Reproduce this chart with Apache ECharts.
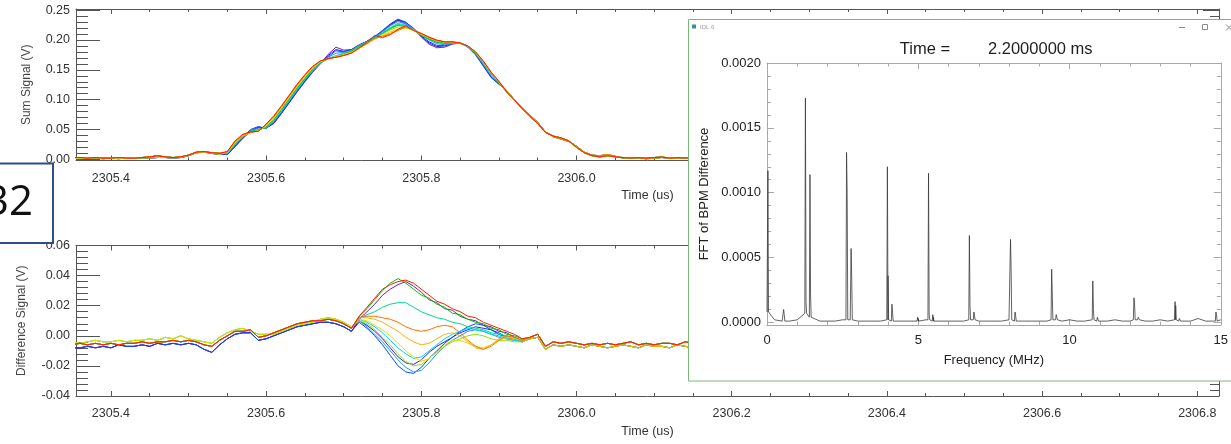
<!DOCTYPE html>
<html>
<head>
<meta charset="utf-8">
<title>BPM sum / difference signals and FFT</title>
<script src="https://cdn.jsdelivr.net/npm/echarts@6/dist/echarts.min.js"></script>
<style>
  html, body { margin: 0; padding: 0; background: #ffffff; }
  #chart { width: 1231px; height: 444px; }
</style>
</head>
<body>
<div id="chart"></div>
<script>
// ---------------- time base of the pickup traces ----------------
const sampleStepUs = 0.01;
const timeRangeUs = [2305.355, 2306.828];
const timeTickLabels = ['2305.4', '2305.6', '2305.8', '2306.0', '2306.2', '2306.4', '2306.6', '2306.8'];
const sumTickLabels = ['0.00', '0.05', '0.10', '0.15', '0.20', '0.25'];
const diffTickLabels = ['-0.04', '-0.02', '0.00', '0.02', '0.04', '0.06'];

// one colour per turn, in acquisition order
const traceColors = ['#7a1fb0', '#3020d8', '#0a46ff', '#1e96ff', '#00d2f0', '#00d890',
                     '#00c400', '#8ce000', '#e0e000', '#ffb000', '#ff7000', '#ff1a00'];

// ---------------- sum signal (V) ----------------
const sumPreStart = 2305.35;   // 2305.35 .. 2305.54
const sumPre = [
  [0.003, 0.003, 0.002, 0.003, 0.002, 0.002, 0.003, 0.002, 0.002, 0.003, 0.004, 0.006, 0.004, 0.003, 0.004, 0.007, 0.012, 0.013, 0.011, 0.010],
  [0.002, 0.001, 0.002, 0.002, 0.001, 0.002, 0.001, 0.002, 0.003, 0.002, 0.002, 0.003, 0.003, 0.002, 0.003, 0.006, 0.011, 0.012, 0.010, 0.008]
];
const sumCoreStart = 2305.55;  // 2305.55 .. 2305.90, one row per turn
const sumCore = [
  [0.008, 0.021, 0.035, 0.047, 0.054, 0.052, 0.060, 0.077, 0.095, 0.113, 0.130, 0.146, 0.160, 0.176, 0.188, 0.183, 0.184, 0.191, 0.197, 0.205, 0.215, 0.226, 0.234, 0.229, 0.220, 0.205, 0.193, 0.187, 0.188, 0.193, 0.195, 0.190, 0.177, 0.158, 0.138, 0.126],
  [0.008, 0.022, 0.036, 0.048, 0.053, 0.053, 0.061, 0.078, 0.096, 0.114, 0.131, 0.147, 0.161, 0.174, 0.184, 0.181, 0.184, 0.192, 0.198, 0.205, 0.214, 0.225, 0.233, 0.227, 0.218, 0.206, 0.195, 0.189, 0.190, 0.194, 0.195, 0.189, 0.176, 0.157, 0.138, 0.127],
  [0.009, 0.023, 0.037, 0.050, 0.055, 0.052, 0.062, 0.079, 0.097, 0.115, 0.132, 0.148, 0.162, 0.172, 0.182, 0.180, 0.183, 0.191, 0.198, 0.206, 0.216, 0.227, 0.235, 0.230, 0.219, 0.207, 0.197, 0.191, 0.191, 0.195, 0.196, 0.188, 0.175, 0.156, 0.137, 0.126],
  [0.009, 0.024, 0.037, 0.048, 0.052, 0.052, 0.063, 0.080, 0.098, 0.116, 0.133, 0.148, 0.161, 0.171, 0.178, 0.179, 0.183, 0.191, 0.198, 0.205, 0.214, 0.224, 0.231, 0.227, 0.219, 0.209, 0.200, 0.194, 0.192, 0.194, 0.195, 0.189, 0.177, 0.159, 0.140, 0.127],
  [0.010, 0.025, 0.038, 0.047, 0.050, 0.053, 0.065, 0.082, 0.100, 0.118, 0.134, 0.149, 0.161, 0.169, 0.174, 0.178, 0.182, 0.190, 0.197, 0.204, 0.212, 0.221, 0.228, 0.225, 0.218, 0.208, 0.201, 0.196, 0.194, 0.195, 0.195, 0.189, 0.178, 0.161, 0.142, 0.128],
  [0.010, 0.026, 0.038, 0.046, 0.049, 0.054, 0.066, 0.083, 0.101, 0.119, 0.135, 0.150, 0.162, 0.168, 0.172, 0.177, 0.182, 0.189, 0.196, 0.203, 0.211, 0.220, 0.226, 0.224, 0.217, 0.208, 0.201, 0.196, 0.194, 0.195, 0.194, 0.189, 0.178, 0.162, 0.143, 0.129],
  [0.011, 0.027, 0.039, 0.046, 0.049, 0.054, 0.067, 0.084, 0.102, 0.120, 0.136, 0.151, 0.163, 0.169, 0.172, 0.176, 0.181, 0.189, 0.196, 0.203, 0.211, 0.219, 0.225, 0.222, 0.216, 0.208, 0.202, 0.197, 0.195, 0.196, 0.195, 0.190, 0.179, 0.163, 0.144, 0.129],
  [0.011, 0.027, 0.039, 0.045, 0.048, 0.055, 0.068, 0.085, 0.103, 0.121, 0.137, 0.152, 0.163, 0.169, 0.172, 0.176, 0.180, 0.188, 0.195, 0.202, 0.210, 0.217, 0.222, 0.221, 0.216, 0.209, 0.203, 0.198, 0.196, 0.196, 0.195, 0.190, 0.179, 0.163, 0.144, 0.129],
  [0.012, 0.028, 0.040, 0.045, 0.048, 0.056, 0.070, 0.087, 0.105, 0.123, 0.139, 0.153, 0.164, 0.169, 0.172, 0.175, 0.179, 0.187, 0.194, 0.201, 0.208, 0.214, 0.219, 0.220, 0.216, 0.210, 0.204, 0.199, 0.197, 0.197, 0.195, 0.190, 0.179, 0.163, 0.145, 0.130],
  [0.012, 0.029, 0.040, 0.045, 0.048, 0.057, 0.071, 0.088, 0.106, 0.124, 0.140, 0.154, 0.164, 0.169, 0.172, 0.175, 0.179, 0.187, 0.194, 0.202, 0.207, 0.212, 0.217, 0.221, 0.217, 0.210, 0.204, 0.199, 0.197, 0.197, 0.195, 0.190, 0.180, 0.164, 0.145, 0.130],
  [0.013, 0.030, 0.041, 0.045, 0.047, 0.058, 0.072, 0.089, 0.107, 0.125, 0.141, 0.155, 0.165, 0.169, 0.171, 0.174, 0.178, 0.186, 0.194, 0.203, 0.206, 0.210, 0.216, 0.222, 0.217, 0.211, 0.204, 0.199, 0.197, 0.197, 0.195, 0.190, 0.180, 0.164, 0.146, 0.130],
  [0.013, 0.031, 0.042, 0.046, 0.047, 0.059, 0.073, 0.090, 0.108, 0.126, 0.142, 0.156, 0.165, 0.169, 0.171, 0.174, 0.178, 0.187, 0.196, 0.208, 0.204, 0.209, 0.218, 0.224, 0.216, 0.211, 0.205, 0.200, 0.197, 0.197, 0.195, 0.190, 0.180, 0.165, 0.146, 0.131]
];
const sumFallStart = 2305.91;  // 2305.91 .. 2306.05
const sumFall = [
  [0.115, 0.100, 0.086, 0.074, 0.062, 0.046, 0.038, 0.034, 0.030, 0.022, 0.012, 0.007, 0.006, 0.008, 0.005],
  [0.113, 0.099, 0.085, 0.072, 0.060, 0.045, 0.039, 0.036, 0.031, 0.020, 0.011, 0.006, 0.004, 0.006, 0.004]
];
const sumPostStart = 2306.06;  // 2306.06 .. 2306.83
const sumPost = [
  [0.003, 0.002, 0.003, 0.002, 0.003, 0.004, 0.002, 0.003, 0.002, 0.003, 0.002, 0.003, 0.003,
   0.002, 0.003, 0.002, 0.002, 0.003, 0.002, 0.003, 0.004, 0.003, 0.002, 0.003, 0.002, 0.003,
   0.002, 0.003, 0.003, 0.002, 0.003, 0.002, 0.003, 0.002, 0.002, 0.003, 0.002, 0.003, 0.002,
   0.003, 0.002, 0.002, 0.003, 0.002, 0.003, 0.003, 0.002, 0.003, 0.002, 0.002, 0.003, 0.002,
   0.003, 0.002, 0.003, 0.002, 0.002, 0.003, 0.002, 0.003, 0.002, 0.003, 0.002, 0.002, 0.003,
   0.002, 0.003, 0.002, 0.003, 0.002, 0.002, 0.003, 0.002, 0.003, 0.002, 0.003, 0.002, 0.003],
  [0.002, 0.003, 0.002, 0.001, 0.002, 0.003, 0.002, 0.002, 0.003, 0.002, 0.001, 0.002, 0.002,
   0.003, 0.002, 0.001, 0.002, 0.002, 0.003, 0.002, 0.002, 0.001, 0.002, 0.003, 0.002, 0.002,
   0.001, 0.002, 0.002, 0.003, 0.002, 0.001, 0.002, 0.002, 0.003, 0.002, 0.002, 0.001, 0.002,
   0.002, 0.003, 0.002, 0.001, 0.002, 0.002, 0.003, 0.002, 0.002, 0.001, 0.002, 0.003, 0.002,
   0.002, 0.001, 0.002, 0.002, 0.003, 0.002, 0.002, 0.001, 0.002, 0.003, 0.002, 0.002, 0.001,
   0.002, 0.002, 0.003, 0.002, 0.001, 0.002, 0.002, 0.003, 0.002, 0.002, 0.001, 0.002, 0.002]
];
const sumPreVariant  = [1, 1, 1, 0, 0, 0, 0, 0, 1, 0, 0, 0];
const sumFallVariant = [0, 1, 0, 1, 0, 1, 0, 1, 0, 1, 0, 1];
const sumPostVariant = [1, 0, 1, 0, 1, 0, 1, 0, 1, 0, 1, 0];

// ---------------- difference signal (V) ----------------
const diffPreStart = 2305.35;  // 2305.35 .. 2305.71
const diffPre = [
  [-0.006, -0.005, -0.006, -0.005, -0.006, -0.005, -0.006, -0.005, -0.005, -0.004, -0.005, -0.004, -0.004, -0.003, -0.004, -0.003, -0.004, -0.006, -0.007,
   -0.003, 0.000, 0.003, 0.003, 0.004, -0.001, 0.000, 0.002, 0.004, 0.006, 0.008, 0.009, 0.010, 0.010, 0.011, 0.010, 0.008, 0.005],
  [-0.008, -0.008, -0.007, -0.008, -0.007, -0.008, -0.006, -0.007, -0.007, -0.006, -0.007, -0.005, -0.006, -0.005, -0.006, -0.005, -0.006, -0.009, -0.011,
   -0.006, -0.002, 0.001, 0.002, 0.002, -0.003, -0.002, 0.000, 0.002, 0.004, 0.006, 0.007, 0.008, 0.009, 0.009, 0.008, 0.006, 0.003],
  [-0.004, -0.005, -0.004, -0.003, -0.004, -0.004, -0.003, -0.004, -0.003, -0.003, -0.002, -0.003, -0.001, -0.002, 0.000, -0.002, -0.003, -0.004, -0.005,
   -0.001, 0.002, 0.004, 0.005, 0.003, 0.001, 0.001, 0.001, 0.003, 0.005, 0.007, 0.008, 0.009, 0.011, 0.012, 0.011, 0.009, 0.006]
];
const diffCoreStart = 2305.72; // 2305.72 .. 2305.93, one row per turn
const diffCore = [
  [0.011, 0.016, 0.021, 0.027, 0.031, 0.034, 0.036, 0.033, 0.029, 0.024, 0.022, 0.018, 0.017, 0.013, 0.011, 0.010, 0.007, 0.006, 0.003, 0.002, -0.001, -0.003],
  [0.010, 0.007, 0.003, -0.002, -0.008, -0.014, -0.018, -0.019, -0.016, -0.011, -0.007, -0.004, -0.001, 0.002, 0.004, 0.006, 0.005, 0.004, 0.001, -0.001, -0.002, -0.004],
  [0.009, 0.005, 0.000, -0.006, -0.013, -0.020, -0.024, -0.025, -0.021, -0.015, -0.010, -0.005, -0.001, 0.003, 0.006, 0.008, 0.007, 0.004, 0.002, -0.001, -0.002, -0.004],
  [0.010, 0.006, 0.001, -0.004, -0.010, -0.016, -0.021, -0.024, -0.023, -0.018, -0.012, -0.007, -0.003, 0.000, 0.003, 0.004, 0.003, 0.001, -0.001, -0.002, -0.003, -0.004],
  [0.011, 0.009, 0.006, 0.002, -0.003, -0.008, -0.012, -0.015, -0.014, -0.010, -0.006, -0.002, 0.001, 0.003, 0.005, 0.004, 0.003, 0.001, 0.000, -0.002, -0.003, -0.003],
  [0.012, 0.014, 0.016, 0.019, 0.021, 0.022, 0.022, 0.019, 0.016, 0.014, 0.012, 0.011, 0.009, 0.008, 0.006, 0.005, 0.004, 0.002, 0.001, 0.000, -0.002, -0.003],
  [0.013, 0.018, 0.024, 0.030, 0.035, 0.038, 0.035, 0.031, 0.027, 0.025, 0.021, 0.019, 0.015, 0.014, 0.011, 0.009, 0.008, 0.005, 0.004, 0.001, 0.000, -0.002],
  [0.010, 0.008, 0.004, -0.001, -0.006, -0.012, -0.017, -0.020, -0.019, -0.015, -0.011, -0.007, -0.004, -0.002, 0.000, 0.001, 0.000, -0.002, -0.003, -0.003, -0.004, -0.004],
  [0.011, 0.010, 0.007, 0.004, 0.000, -0.005, -0.010, -0.014, -0.017, -0.015, -0.011, -0.006, -0.003, -0.003, -0.005, -0.007, -0.008, -0.006, -0.003, -0.001, -0.002, -0.003],
  [0.012, 0.012, 0.011, 0.009, 0.006, 0.003, -0.001, -0.004, -0.006, -0.005, -0.002, 0.001, 0.002, 0.000, -0.004, -0.008, -0.009, -0.006, -0.002, 0.000, -0.002, -0.003],
  [0.012, 0.013, 0.013, 0.012, 0.011, 0.009, 0.006, 0.004, 0.003, 0.004, 0.006, 0.007, 0.006, 0.002, -0.003, -0.007, -0.009, -0.007, -0.003, 0.000, -0.001, -0.003],
  [0.013, 0.019, 0.025, 0.031, 0.034, 0.036, 0.037, 0.035, 0.031, 0.027, 0.023, 0.021, 0.018, 0.016, 0.013, 0.012, 0.009, 0.007, 0.005, 0.003, 0.001, -0.002]
];
const diffPostStart = 2305.94; // 2305.94 .. 2306.83
const diffPost = [
  [-0.001, 0.001, -0.007, -0.004, -0.005, -0.004, -0.005, -0.006, -0.005, -0.006,
   -0.005, -0.006, -0.005, -0.004, -0.006, -0.005, -0.006, -0.005, -0.005, -0.006,
   -0.004, -0.005, -0.006, -0.005, -0.006, -0.005, -0.004, -0.005, -0.006, -0.005,
   -0.006, -0.005, -0.005, -0.006, -0.004, -0.005, -0.006, -0.005, -0.005, -0.006,
   -0.005, -0.004, -0.006, -0.005, -0.006, -0.005, -0.005, -0.004, -0.006, -0.005,
   -0.006, -0.005, -0.005, -0.006, -0.004, -0.005, -0.006, -0.005, -0.005, -0.006,
   -0.005, -0.004, -0.006, -0.005, -0.006, -0.005, -0.005, -0.004, -0.006, -0.005,
   -0.006, -0.005, -0.005, -0.006, -0.004, -0.005, -0.006, -0.005, -0.005, -0.006,
   -0.005, -0.004, -0.006, -0.005, -0.006, -0.005, -0.005, -0.004, -0.006, -0.005],
  [-0.002, -0.001, -0.009, -0.006, -0.007, -0.006, -0.007, -0.008, -0.006, -0.007,
   -0.008, -0.007, -0.006, -0.007, -0.008, -0.006, -0.007, -0.007, -0.008, -0.006,
   -0.007, -0.008, -0.006, -0.007, -0.007, -0.008, -0.006, -0.007, -0.008, -0.007,
   -0.006, -0.007, -0.008, -0.007, -0.006, -0.007, -0.007, -0.008, -0.006, -0.007,
   -0.008, -0.006, -0.007, -0.007, -0.008, -0.007, -0.006, -0.007, -0.008, -0.006,
   -0.007, -0.007, -0.008, -0.006, -0.007, -0.008, -0.007, -0.006, -0.007, -0.007,
   -0.008, -0.006, -0.007, -0.008, -0.007, -0.006, -0.007, -0.007, -0.008, -0.006,
   -0.007, -0.008, -0.006, -0.007, -0.007, -0.008, -0.007, -0.006, -0.007, -0.008,
   -0.006, -0.007, -0.007, -0.008, -0.006, -0.007, -0.008, -0.007, -0.006, -0.007]
];
const diffPreVariant  = [1, 1, 1, 0, 2, 0, 0, 2, 2, 0, 0, 0];
const diffPostVariant = [1, 1, 0, 0, 0, 1, 0, 1, 0, 1, 0, 0];

// ---------------- FFT of the difference signal ----------------
const freqTickLabels = ['0', '5', '10', '15'];
const fftTickLabels = ['0.0000', '0.0005', '0.0010', '0.0015', '0.0020'];
const fftFloorStepMHz = 0.25;
const fftFloor = [
  0.00008, 0.00002, 0.00001, 0.00001, 0.00002, 0.00007, 0.00004, 0.00001, 0.00001, 0.00001,
  0.00002, 0.00002, 0.00001, 0.00001, 0.00001, 0.00001, 0.00002, 0.00001, 0.00001, 0.00001,
  0.00001, 0.00002, 0.00001, 0.00001, 0.00001, 0.00001, 0.00001, 0.00002, 0.00001, 0.00001,
  0.00001, 0.00001, 0.00002, 0.00001, 0.00001, 0.00001, 0.00001, 0.00001, 0.00002, 0.00001,
  0.00002, 0.00001, 0.00001, 0.00002, 0.00001, 0.00001, 0.00002, 0.00001, 0.00001, 0.00002,
  0.00001, 0.00001, 0.00002, 0.00001, 0.00002, 0.00001, 0.00001, 0.00003, 0.00001, 0.00001,
  0.00002
];
const fftBinMHz = 0.02;
const fftPeakMHz  = [0.03, 0.55, 1.27, 1.42, 2.63, 2.78, 3.98, 4.13, 4.98, 5.34, 5.48, 6.69, 6.84,
                     8.05, 8.20, 9.41, 9.56, 10.77, 10.92, 12.13, 12.27, 13.49, 13.63, 14.84];
const fftPeakAmp  = [0.00117, 0.00010, 0.00173, 0.00114, 0.00131, 0.00057, 0.00120, 0.00014, 0.00004, 0.00115, 0.00006, 0.00067, 0.00008,
                     0.00064, 0.00008, 0.00041, 0.00006, 0.00032, 0.00004, 0.00019, 0.00004, 0.00016, 0.00003, 0.00008];
const fftPeakNext = [0.00008, 0.00006, 0.00016, 0.00022, 0.00098, 0.00035, 0.00036, 0.00008, 0.00003, 0.00006, 0.00004, 0.00013, 0.00005,
                     0.00040, 0.00005, 0.00022, 0.00004, 0.00010, 0.00003, 0.00015, 0.00003, 0.00013, 0.00002, 0.00006];

// ---------------- build series data ----------------
function segment(startUs, values) {
  return values.map((v, i) => [Math.round((startUs + i * sampleStepUs) * 1000) / 1000, v]);
}

const sumSeries = traceColors.map((color, k) => ({
  type: 'line', xAxisIndex: 0, yAxisIndex: 0, z: 2,
  showSymbol: false, symbol: 'none', animation: false, silent: true,
  lineStyle: { color: color, width: 1 },
  data: [].concat(
    segment(sumPreStart, sumPre[sumPreVariant[k]]),
    segment(sumCoreStart, sumCore[k]),
    segment(sumFallStart, sumFall[sumFallVariant[k]]),
    segment(sumPostStart, sumPost[sumPostVariant[k]])
  )
}));

const diffSeries = traceColors.map((color, k) => ({
  type: 'line', xAxisIndex: 2, yAxisIndex: 2, z: 2,
  showSymbol: false, symbol: 'none', animation: false, silent: true,
  lineStyle: { color: color, width: 1 },
  data: [].concat(
    segment(diffPreStart, diffPre[diffPreVariant[k]]),
    segment(diffCoreStart, diffCore[k]),
    segment(diffPostStart, diffPost[diffPostVariant[k]])
  )
}));

const fftPoints = fftFloor.map((v, i) => [i * fftFloorStepMHz, v]);
fftPeakMHz.forEach((f, i) => {
  const foot = fftFloor[Math.min(fftFloor.length - 1, Math.round(f / fftFloorStepMHz))];
  fftPoints.push([f - fftBinMHz, foot], [f, fftPeakAmp[i]], [f + fftBinMHz, fftPeakNext[i]], [f + 2 * fftBinMHz, foot]);
});
fftPoints.sort((a, b) => a[0] - b[0]);

// ---------------- axes ----------------
const FONT = '"Liberation Sans", Arial, Helvetica, sans-serif';
const AXIS_GRAY = '#555555';
const LABEL_GRAY = '#333333';

function tickValues(labels) { return labels.map(Number); }

function timeAxis(gridIndex, top, showLabels) {
  const ticks = tickValues(timeTickLabels);
  return {
    type: 'value', gridIndex: gridIndex, position: top ? 'top' : 'bottom',
    min: timeRangeUs[0], max: timeRangeUs[1], splitNumber: 7,
    axisLine: { show: true, onZero: false, lineStyle: { color: AXIS_GRAY, width: 1 } },
    axisTick: { show: true, inside: true, length: 5, customValues: ticks, lineStyle: { color: AXIS_GRAY, width: 1 } },
    minorTick: { show: true, splitNumber: 4, length: 3, lineStyle: { color: AXIS_GRAY, width: 1 } },
    splitLine: { show: false }, minorSplitLine: { show: false },
    axisLabel: showLabels ? {
      show: true, margin: 11.5, fontSize: 12.5, fontFamily: FONT, color: LABEL_GRAY,
      customValues: ticks, formatter: v => v.toFixed(1)
    } : { show: false },
    name: showLabels ? 'Time (us)' : '', nameLocation: 'middle', nameGap: 29,
    nameTextStyle: { fontSize: 12.5, fontFamily: FONT, color: LABEL_GRAY }
  };
}

function valueAxis(gridIndex, right, range, split, labels, digits, name, nameGap, tickLen, minorLen) {
  const ticks = tickValues(labels);
  return {
    type: 'value', gridIndex: gridIndex, position: right ? 'right' : 'left',
    min: range[0], max: range[1], splitNumber: split,
    axisLine: { show: true, onZero: false, lineStyle: { color: AXIS_GRAY, width: 1 } },
    axisTick: { show: true, inside: true, length: tickLen, customValues: ticks, lineStyle: { color: AXIS_GRAY, width: 1 } },
    minorTick: { show: true, splitNumber: 5, length: minorLen, lineStyle: { color: AXIS_GRAY, width: 1 } },
    splitLine: { show: false }, minorSplitLine: { show: false },
    axisLabel: right ? { show: false } : {
      show: true, margin: 6, fontSize: 12.5, fontFamily: FONT, color: LABEL_GRAY,
      showMinLabel: true, showMaxLabel: true,
      customValues: ticks, formatter: v => (Math.abs(v) < 1e-12 ? 0 : v).toFixed(digits)
    },
    name: right ? '' : name, nameLocation: 'middle', nameGap: nameGap,
    nameTextStyle: { fontSize: 12, fontFamily: FONT, color: '#444444' }
  };
}

const FFT_GRAY = '#a8a8a8';
function fftAxis(extra) {
  return Object.assign({
    type: 'value', z: 20,
    axisLine: { show: true, onZero: false, lineStyle: { color: FFT_GRAY, width: 1 } },
    splitLine: { show: false }, minorSplitLine: { show: false },
    nameLocation: 'middle',
    nameTextStyle: { fontSize: 13, fontFamily: FONT, color: '#222222' }
  }, extra);
}
const freqTicks = tickValues(freqTickLabels);
const fftTicks = tickValues(fftTickLabels);

const option = {
  animation: false,
  backgroundColor: '#ffffff',
  textStyle: { fontFamily: FONT },
  grid: [
    { left: 76, top: 9, width: 1143, height: 151.5, containLabel: false },
    { left: 76, top: 245.5, width: 1143, height: 150.5, containLabel: false },
    { left: 767, top: 63, width: 456, height: 262, containLabel: false }
  ],
  xAxis: [
    timeAxis(0, false, true),
    timeAxis(0, true, false),
    timeAxis(1, false, true),
    timeAxis(1, true, false),
    fftAxis({
      gridIndex: 2, position: 'bottom', min: 0, max: 15, interval: 5,
      axisTick: { show: true, inside: true, length: 6, customValues: freqTicks, lineStyle: { color: FFT_GRAY, width: 1 } },
      minorTick: { show: true, splitNumber: 5, length: 3.5, lineStyle: { color: FFT_GRAY, width: 1 } },
      axisLabel: { show: true, margin: 8.5, fontSize: 13, fontFamily: FONT, color: '#222222',
                   showMinLabel: true, showMaxLabel: true, customValues: freqTicks, formatter: v => String(v) },
      name: 'Frequency (MHz)', nameGap: 28.5
    }),
    fftAxis({
      gridIndex: 2, position: 'top', min: 0, max: 15, interval: 5,
      axisTick: { show: true, inside: true, length: 6, customValues: freqTicks, lineStyle: { color: FFT_GRAY, width: 1 } },
      minorTick: { show: true, splitNumber: 5, length: 3.5, lineStyle: { color: FFT_GRAY, width: 1 } },
      axisLabel: { show: false }
    })
  ],
  yAxis: [
    valueAxis(0, false, [-0.002, 0.252], 5, sumTickLabels, 2, 'Sum Signal (V)', 43, 24, 12),
    valueAxis(0, true, [-0.002, 0.252], 5, sumTickLabels, 2, '', 0, 16, 9),
    valueAxis(1, false, [-0.04, 0.06], 5, diffTickLabels, 2, 'Difference Signal (V)', 48, 24, 12),
    valueAxis(1, true, [-0.04, 0.06], 5, diffTickLabels, 2, '', 0, 16, 9),
    fftAxis({
      gridIndex: 2, position: 'left', min: -0.00002, max: 0.002, splitNumber: 4,
      axisTick: { show: true, inside: true, length: 7, customValues: fftTicks, lineStyle: { color: FFT_GRAY, width: 1 } },
      minorTick: { show: true, splitNumber: 5, length: 4, lineStyle: { color: FFT_GRAY, width: 1 } },
      axisLabel: { show: true, margin: 6, fontSize: 13, fontFamily: FONT, color: '#222222',
                   showMinLabel: true, showMaxLabel: true, customValues: fftTicks,
                   formatter: v => (Math.abs(v) < 1e-12 ? 0 : v).toFixed(4) },
      name: 'FFT of BPM Difference', nameGap: 56.5
    }),
    fftAxis({
      gridIndex: 2, position: 'right', min: -0.00002, max: 0.002, splitNumber: 4,
      axisTick: { show: true, inside: true, length: 7, customValues: fftTicks, lineStyle: { color: FFT_GRAY, width: 1 } },
      minorTick: { show: true, splitNumber: 5, length: 4, lineStyle: { color: FFT_GRAY, width: 1 } },
      axisLabel: { show: false }
    })
  ],
  series: sumSeries.concat(diffSeries, [{
    type: 'line', xAxisIndex: 4, yAxisIndex: 4, z: 20,
    showSymbol: false, symbol: 'none', animation: false, silent: true,
    lineStyle: { color: '#3a3a3a', width: 0.8 },
    data: fftPoints
  }]),
  graphic: {
    elements: [
      // slide box with the page number
      { type: 'rect', z: 15, shape: { x: -10, y: 163.5, width: 63, height: 79.5 },
        style: { fill: '#ffffff', stroke: '#2f4d8a', lineWidth: 2 } },
      { type: 'text', z: 16, x: 33, y: 203,
        style: { text: '32', font: '42px "Open Sans", "Noto Sans", sans-serif', fill: '#111111',
                 textAlign: 'right', align: 'right', textVerticalAlign: 'middle', verticalAlign: 'middle' } },

      // spectrum window
      { type: 'rect', z: 10, shape: { x: 688.5, y: 19.5, width: 600, height: 361.5 },
        style: { fill: '#ffffff', stroke: '#78b878', lineWidth: 1 } },
      { type: 'rect', z: 11, shape: { x: 692, y: 24.5, width: 4, height: 4 },
        style: { fill: '#3a8f98' } },
      { type: 'text', z: 11, x: 700, y: 27,
        style: { text: 'IDL 6', font: '6px ' + FONT, fill: '#9a9a9a',
                 textAlign: 'left', align: 'left', textVerticalAlign: 'middle', verticalAlign: 'middle' } },
      { type: 'line', z: 11, shape: { x1: 1179, y1: 27.5, x2: 1185, y2: 27.5 },
        style: { stroke: '#8a8a8a', lineWidth: 1 } },
      { type: 'rect', z: 11, shape: { x: 1202.5, y: 24.5, width: 5, height: 5 },
        style: { fill: 'none', stroke: '#8a8a8a', lineWidth: 1 } },
      { type: 'line', z: 11, shape: { x1: 1226, y1: 24.5, x2: 1232, y2: 30.5 },
        style: { stroke: '#8a8a8a', lineWidth: 1 } },
      { type: 'line', z: 11, shape: { x1: 1226, y1: 30.5, x2: 1232, y2: 24.5 },
        style: { stroke: '#8a8a8a', lineWidth: 1 } },
      { type: 'text', z: 21, x: 925, y: 49,
        style: { text: 'Time =', font: '16.5px ' + FONT, fill: '#1e1e1e',
                 textAlign: 'center', align: 'center', textVerticalAlign: 'middle', verticalAlign: 'middle' } },
      { type: 'text', z: 21, x: 988, y: 49,
        style: { text: '2.2000000 ms', font: '16.5px ' + FONT, fill: '#1e1e1e',
                 textAlign: 'left', align: 'left', textVerticalAlign: 'middle', verticalAlign: 'middle' } }
    ]
  }
};

const chart = echarts.init(document.getElementById('chart'), null, { renderer: 'canvas', width: 1231, height: 444 });
chart.setOption(option);
</script>
</body>
</html>
